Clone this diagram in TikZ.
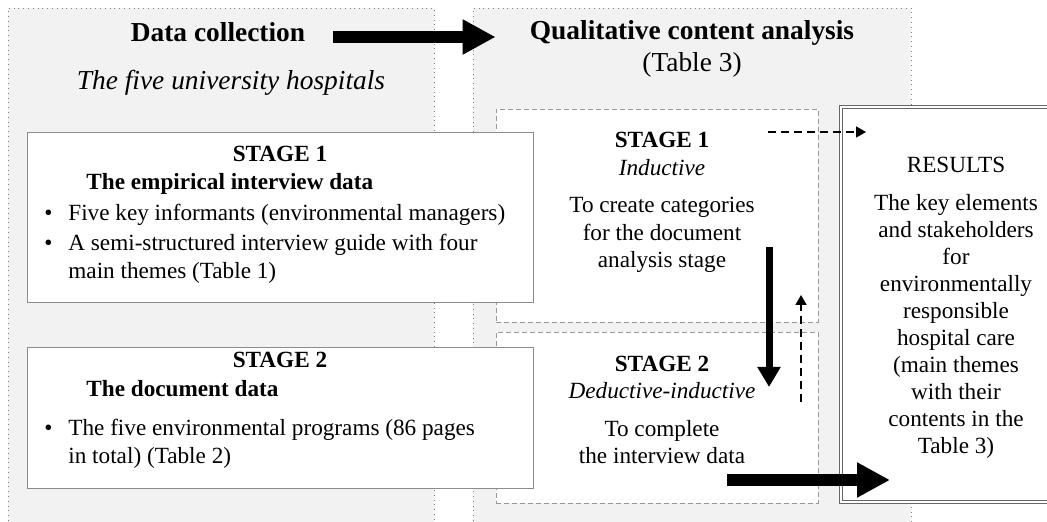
\documentclass[tikz,border=0pt]{standalone}
\usepackage{fontspec}
\setmainfont{Liberation Serif}
\usetikzlibrary{arrows.meta, positioning, fit}

\tikzset{
  panel/.style     = {draw=black!50, dotted, fill=black!5, inner sep=0pt},
  phasebox/.style  = {draw=black!40, dash pattern=on 2.5pt off 1.5pt, fill=white, inner sep=0pt},
  stagebox/.style  = {draw=black!45, fill=white, inner sep=0pt},
  resultbox/.style = {draw=black!60, line width=0.5pt, double=white, double distance=1.4pt,
                      fill=white, inner sep=0pt},
  heading/.style   = {font=\fontsize{13.7}{16}\selectfont\bfseries, anchor=base, inner sep=0pt},
  sitenote/.style  = {font=\fontsize{13.7}{16}\selectfont\itshape, anchor=base, inner sep=0pt},
  tablenote/.style = {font=\fontsize{13.7}{16}\selectfont, anchor=base, inner sep=0pt},
  body/.style      = {font=\fontsize{11.6}{13.8}\selectfont, anchor=base, inner sep=0pt, align=center},
  stagehead/.style = {body, font=\fontsize{11.6}{13.8}\selectfont\bfseries},
  bullets/.style   = {font=\fontsize{11.6}{14}\selectfont, anchor=base west, inner sep=0pt},
  fatarrow/.style  = {line width=5.8pt, -{Triangle[length=16.5pt, width=16.5pt]}},
  downarrow/.style = {line width=3.5pt, -{Triangle[length=10pt, width=11pt]}},
  dasharrow/.style = {line width=0.9pt, dash pattern=on 4pt off 2.5pt,
                      -{Triangle[length=5pt, width=5.5pt]}}
}

\begin{document}
\begin{tikzpicture}[x=0.5pt, y=-0.5pt]
  \useasboundingbox (0,0) rectangle (1047,522);

  \node[panel, fit={(8,8) (434,540)}]          (collection) {};
  \node[panel, fit={(473,8) (911,540)}]        (analysis)   {};
  \node[phasebox, fit={(496,109) (818,322)}]   (induct)     {};
  \node[phasebox, fit={(496,332) (818,503)}]   (deduct)     {};
  \node[stagebox, fit={(27,132) (533,302)}]    (interviews) {};
  \node[stagebox, fit={(27,347) (533,488)}]    (documents)  {};
  \node[resultbox, fit={(841,107) (1080,502)}] (results)    {};

  \node[heading]   (colltitle) at (218,42) {Data collection};
  \node[sitenote]  (sites)     at (231,90) {The five university hospitals};
  \node[heading]   (qualtitle) at (692,40) {Qualitative content analysis};
  \node[tablenote] (qualtable) at (692,72) {(Table 3)};

  \node[stagehead] (intstage)  at (280,162) {STAGE 1};
  \node[stagehead, anchor=base west] (inttitle) at (86,190) {The empirical interview data};
  \node[bullets]   (intlist)   at (44,221)
    {\begin{tabular}[t]{@{}p{12pt}@{}l@{}}
      \textbullet & Five key informants (environmental managers)\\[1pt]
      \textbullet & A semi-structured interview guide with four\\
                  & main themes (Table 1)
    \end{tabular}};

  \node[stagehead] (docstage)  at (280,368) {STAGE 2};
  \node[stagehead, anchor=base west] (doctitle) at (86,397) {The document data};
  \node[bullets]   (doclist)   at (44,436)
    {\begin{tabular}[t]{@{}p{12pt}@{}l@{}}
      \textbullet & The five environmental programs (86 pages\\
                  & in total) (Table 2)
    \end{tabular}};

  % multi-line nodes sit on the baseline of their last line
  \node[body] (inducttext) at (662,268)
    {\textbf{STAGE 1}\\ \textit{Inductive}\\[5pt] To create categories\\ for the document\\ analysis stage};
  \node[body] (deducttext) at (662,464)
    {\textbf{STAGE 2}\\ \textit{Deductive-inductive}\\[5pt] To complete\\ the interview data};

  \node[body, font=\fontsize{11.6}{13.5}\selectfont] (resulttext) at (956,454)
    {RESULTS\\[5.5pt] The key elements\\ and stakeholders\\ for\\ environmentally\\ responsible\\
     hospital care\\ (main themes\\ with their\\ contents in the\\ Table 3)};

  \coordinate (flowstart) at (333,37);
  \coordinate (downstart) at (769,247);
  \coordinate (downend)   at (769,387);
  \coordinate (upstart)   at (801,402);
  \coordinate (upend)     at (801,295);
  \coordinate (dashstart) at (768,132);
  \coordinate (dashend)   at (866,132);
  \coordinate (outstart)  at (727,480);
  \coordinate (outend)    at (890,480);

  \draw[fatarrow]  (flowstart) -- (flowstart -| induct.west);
  \draw[downarrow] (downstart) -- (downend);
  \draw[dasharrow] (upstart)   -- (upend);
  \draw[dasharrow] (dashstart) -- (dashend);
  \draw[fatarrow]  (outstart)  -- (outend);
\end{tikzpicture}
\end{document}
